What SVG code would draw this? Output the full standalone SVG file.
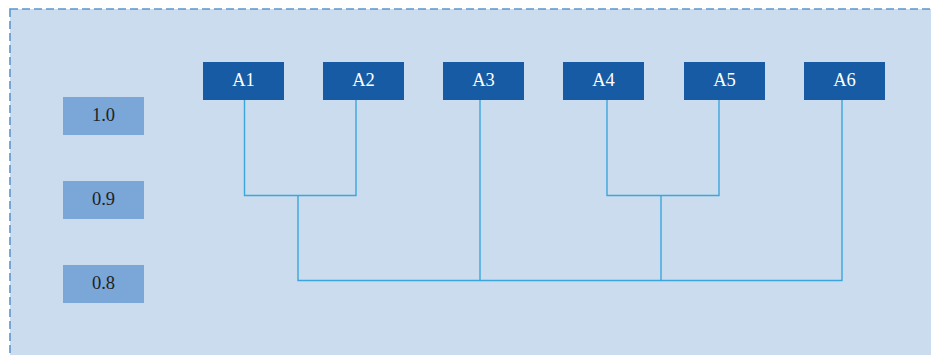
<svg xmlns="http://www.w3.org/2000/svg" width="931" height="355" viewBox="0 0 931 355">
<style>
.frame{fill:#cbdcee;stroke:#5b95cf;stroke-width:1.6;stroke-dasharray:8 4}
.node rect{fill:#165ba3}
.node text{fill:#ffffff;font-family:"Liberation Serif",serif;font-size:18.5px;text-anchor:middle}
.lvl rect{fill:#7ba6d8}
.lvl text{fill:#222222;font-family:"Liberation Serif",serif;font-size:18.5px;text-anchor:middle}
.conn{fill:none;stroke:#3aa6dc;stroke-width:1.4}
</style>
<rect class="frame" x="10" y="9" width="940" height="360"/>
<g id="lvl10" class="lvl"><rect x="63" y="97" width="81" height="38"/><text x="103.5" y="121">1.0</text></g>
<g id="lvl09" class="lvl"><rect x="63" y="181" width="81" height="38"/><text x="103.5" y="205">0.9</text></g>
<g id="lvl08" class="lvl"><rect x="63" y="265" width="81" height="38"/><text x="103.5" y="289">0.8</text></g>
<g id="connectors" class="conn">
<path d="M244.5 100 V195.5 H356 V100"/>
<path d="M607 100 V195.5 H719 V100"/>
<path d="M298 195.5 V280.5 H842 V100"/>
<path d="M480 100 V280.5"/>
<path d="M661 195.5 V280.5"/>
</g>
<g id="A1" class="node"><rect x="203" y="62" width="81" height="38"/><text x="243.5" y="86">A1</text></g>
<g id="A2" class="node"><rect x="323" y="62" width="81" height="38"/><text x="363.5" y="86">A2</text></g>
<g id="A3" class="node"><rect x="443" y="62" width="81" height="38"/><text x="483.5" y="86">A3</text></g>
<g id="A4" class="node"><rect x="563" y="62" width="81" height="38"/><text x="603.5" y="86">A4</text></g>
<g id="A5" class="node"><rect x="684" y="62" width="81" height="38"/><text x="724.5" y="86">A5</text></g>
<g id="A6" class="node"><rect x="804" y="62" width="81" height="38"/><text x="844.5" y="86">A6</text></g>
</svg>
